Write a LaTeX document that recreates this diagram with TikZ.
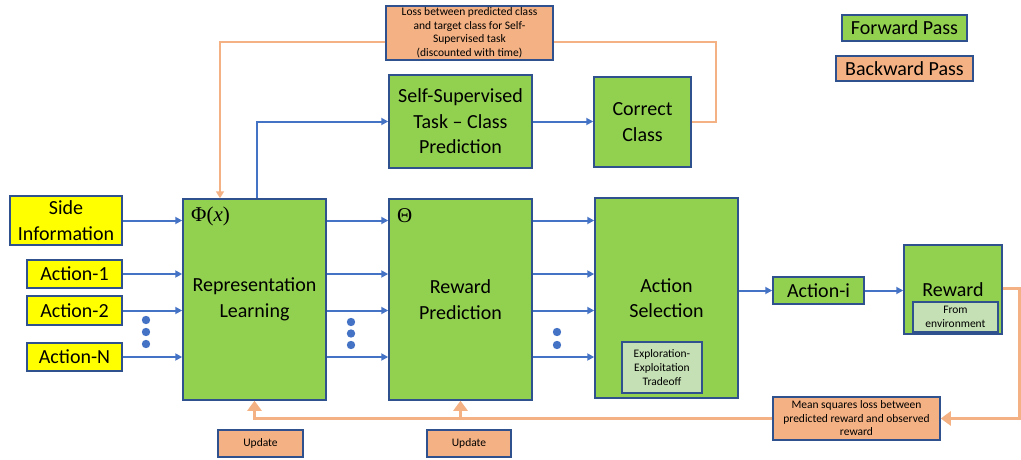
\documentclass[tikz,border=0pt]{standalone}
\usepackage{fontspec}
\setmainfont{Carlito}
\newfontfamily\symfont{Liberation Serif}
\usetikzlibrary{arrows.meta}
\definecolor{boxgreen}{HTML}{92D050}
\definecolor{lightgreen}{HTML}{C5E0B4}
\definecolor{boxorange}{HTML}{F4B183}
\definecolor{boxyellow}{HTML}{FFFF00}
\definecolor{edgeblue}{HTML}{2F528F}
\definecolor{lineblue}{HTML}{4472C4}

\begin{document}
\begin{tikzpicture}[x=1pt,y=1pt]
		\tikzstyle{every node}+=[inner sep=0pt]
		\tikzstyle{box}=[draw=edgeblue, line width=1.5pt, align=center, font=\fontsize{20}{25.5}\selectfont]
		\tikzstyle{green box}=[box, fill=boxgreen]
		\tikzstyle{input box}=[box, fill=boxyellow]
		\tikzstyle{inner box}=[box, fill=lightgreen, font=\fontsize{11.5}{14}\selectfont]
		\tikzstyle{loss box}=[box, fill=boxorange, font=\fontsize{11.5}{13.5}\selectfont]
		\tikzstyle{fwd}=[draw=lineblue, line width=2pt, -{Triangle[length=7pt,width=7pt]}]
		\tikzstyle{back}=[draw=boxorange, line width=3.5pt, -{Triangle[length=10pt,width=14pt]}]
		\tikzstyle{dot}=[fill=lineblue]
		\useasboundingbox (0,0) rectangle (1021,-460);
		% inputs
		\node (side) [input box, minimum width=112pt, minimum height=49pt] at (66,-220.5) {Side\\Information};
		\node (act1) [input box, minimum width=95pt, minimum height=28pt] at (74.5,-274) {Action-1};
		\node (act2) [input box, minimum width=95pt, minimum height=29pt] at (74.5,-310.5) {Action-2};
		\node (actN) [input box, minimum width=95pt, minimum height=28pt] at (74.5,-357) {Action-N};
		% main blocks
		\node (rep) [green box, minimum width=143pt, minimum height=201pt] at (254.5,-299.5) {Representation\\Learning};
		\node (pred) [green box, minimum width=143pt, minimum height=201pt] at (460.5,-299.5) {Reward\\Prediction};
		\node (sel) [green box, minimum width=143pt, minimum height=200pt] at (666.5,-298) {Action\\Selection};
		\node (explo) [inner box, minimum width=80pt, minimum height=51pt] at (662,-367.5) {Exploration-\\Exploitation\\Tradeoff};
		\node (acti) [green box, minimum width=91pt, minimum height=27pt] at (818.5,-290.5) {Action-i};
		\node (rew) [green box, minimum width=98pt, minimum height=89pt] at (953,-289.5) {Reward};
		\node (env) [inner box, minimum width=85pt, minimum height=30pt] at (955.5,-317) {From\\environment};
		\node (ssl) [green box, minimum width=143pt, minimum height=93pt] at (460.5,-121.5) {Self-Supervised\\Task -- Class\\Prediction};
		\node (cls) [green box, minimum width=97pt, minimum height=90pt] at (642.5,-122) {Correct\\Class};
		\node (phi) [anchor=west, font=\symfont\fontsize{21}{21}\selectfont] at (191,-216) {Φ(\textit{x})};
		\node (theta) [anchor=west, font=\symfont\fontsize{21}{21}\selectfont] at (397,-216) {Θ};
		% losses and updates
		\node (lossc) [loss box, minimum width=167pt, minimum height=54pt] at (469.5,-33) {Loss between predicted class\\and target class for Self-\\Supervised task\\(discounted with time)};
		\node (lossr) [loss box, minimum width=167pt, minimum height=43pt] at (856.5,-418.5) {Mean squares loss between\\predicted reward and observed\\reward};
		\node (upd1) [loss box, minimum width=85pt, minimum height=27pt] at (260.5,-443.5) {Update};
		\node (upd2) [loss box, minimum width=84pt, minimum height=27pt] at (469,-443.5) {Update};
		% legend
		\node (fwdkey) [green box, minimum width=125pt, minimum height=26pt] at (904.5,-28) {Forward Pass};
		\node (bwdkey) [box, fill=boxorange, minimum width=137pt, minimum height=25pt] at (904.5,-68.5) {Backward Pass};
		% forward pass
		\foreach \src in {side,act1,act2,actN} {
			\draw [fwd] (\src.east) -- (\src.east -| rep.west);
			\draw [fwd] (rep.east |- \src.east) -- (pred.west |- \src.east);
			\draw [fwd] (pred.east |- \src.east) -- (sel.west |- \src.east);
		}
		\draw [fwd] (sel.east |- acti.west) -- (acti.west);
		\draw [fwd] (acti.east) -- (rew.west |- acti.east);
		\draw [fwd] ([xshift=2.5pt]rep.north) |- (ssl.west);
		\draw [fwd] (ssl.east) -- (cls.west |- ssl.east);
		% dots
		\foreach \y in {-320,-332,-344} \fill [dot] (146,\y) circle (4.2);
		\foreach \y in {-322,-333.5,-345} \fill [dot] (351,\y) circle (4.2);
		\foreach \y in {-332,-345} \fill [dot] (557,\y) circle (4.2);
		% backward pass
		\draw [draw=boxorange, line width=2.5pt] (cls.east) -- ++(24,0) |- ([yshift=-9pt]lossc.east);
		\draw [back, line width=2.5pt, -{Triangle[length=7pt,width=8pt]}] ([yshift=-9pt]lossc.west) -| ([xshift=-34.5pt]rep.north);
		\draw [back] ([yshift=1pt]rew.east) -- ++(17,0) |- (lossr.east);
		\draw [back] (lossr.west) -| (rep.south);
		\draw [back] (pred.south |- lossr.west) -- (pred.south);
	\end{tikzpicture}
\end{document}
